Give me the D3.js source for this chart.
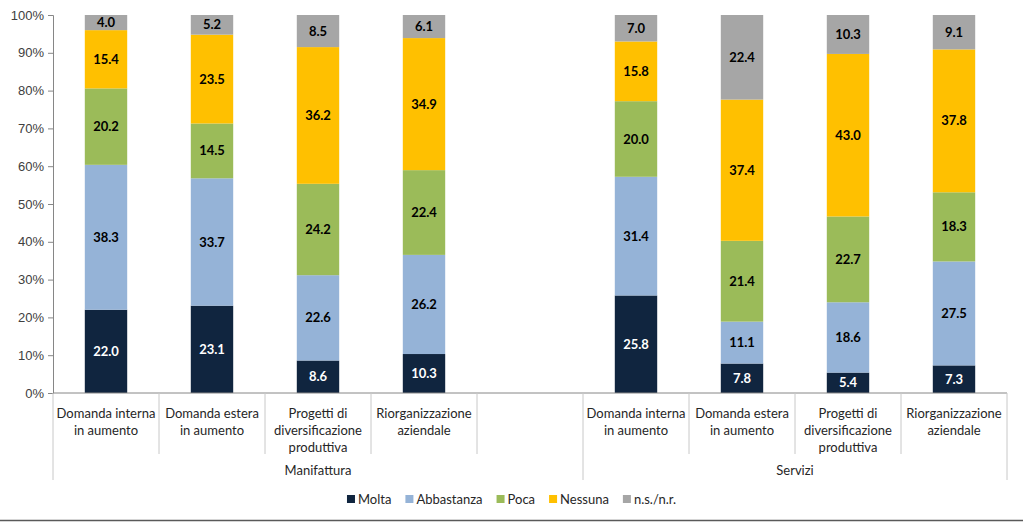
<!DOCTYPE html>
<html><head><meta charset="utf-8">
<script src="https://cdn.jsdelivr.net/npm/d3@7"></script>
<style>body{margin:0;background:#fff}svg{display:block;font-family:Lato,"Open Sans",sans-serif}</style>
</head><body><svg id="c" width="1023" height="522"></svg>
<script>
const groups = ["Manifattura", "Servizi"];
const categories = ["Domanda interna\nin aumento", "Domanda estera\nin aumento", "Progetti di\ndiversificazione\nproduttiva", "Riorganizzazione\naziendale"];
const seriesNames = ["Molta", "Abbastanza", "Poca", "Nessuna", "n.s./n.r."];
const colors = ["#10253F", "#95B3D7", "#9BBB59", "#FFC000", "#A6A6A6"];
const manifattura = [
  [22.0, 38.3, 20.2, 15.4, 4.0],
  [23.1, 33.7, 14.5, 23.5, 5.2],
  [8.6, 22.6, 24.2, 36.2, 8.5],
  [10.3, 26.2, 22.4, 34.9, 6.1]
];
const servizi = [
  [25.8, 31.4, 20.0, 15.8, 7.0],
  [7.8, 11.1, 21.4, 37.4, 22.4],
  [5.4, 18.6, 22.7, 43.0, 10.3],
  [7.3, 27.5, 18.3, 37.8, 9.1]
];
const yTicks = [0,10,20,30,40,50,60,70,80,90,100];

const svg = d3.select("#c");
const L = 53, R = 1007, T = 15, B = 393;
const slots = [];
categories.forEach((c,i)=>slots.push({key:"M"+i, cat:c, g:0, vals:manifattura[i]}));
slots.push({key:"gap", cat:"", g:-1, vals:null});
categories.forEach((c,i)=>slots.push({key:"S"+i, cat:c, g:1, vals:servizi[i]}));

const x = d3.scaleBand().domain(slots.map(s=>s.key)).range([L,R]).paddingInner(0).paddingOuter(0);
const y = d3.scaleLinear().domain([0,100]).range([B,T]);
const bw = x.bandwidth()*0.40;

const yAxis = d3.axisLeft(y).tickValues(yTicks).tickFormat(d=>d+"%").tickSize(5).tickPadding(4);
const ya = svg.append("g").attr("transform",`translate(${L},0)`).call(yAxis);
ya.select(".domain").attr("stroke","#868686");
ya.selectAll(".tick line").attr("stroke","#868686");
ya.selectAll(".tick text").attr("fill","#404040").style("font-size","13px");

slots.filter(s=>s.vals).forEach(s=>{
  const tot = d3.sum(s.vals);
  let acc = 0;
  s.vals.forEach((v,k)=>{
    const y0 = acc/tot*100, y1 = (acc+v)/tot*100; acc += v;
    const cx = x(s.key)+x.bandwidth()/2;
    svg.append("rect").attr("x",cx-bw/2).attr("width",bw)
      .attr("y",y(y1)).attr("height",y(y0)-y(y1)).attr("fill",colors[k]);
    svg.append("text").attr("x",cx).attr("y",(y(y0)+y(y1))/2).attr("dy","0.35em")
      .attr("text-anchor","middle").style("font-size","13px").style("font-weight","bold")
      .attr("fill",k===0?"#ffffff":"#000000").text(v.toFixed(1));
  });
});

svg.append("line").attr("x1",L).attr("x2",R).attr("y1",B).attr("y2",B).attr("stroke","#868686");
const lineC = "#c8c8c8";
slots.forEach((s,i)=>{
  const xe = x(s.key)+x.bandwidth();
  const isGroupEdge = (s.key==="gap") || i===slots.length-1;
  svg.append("line").attr("x1",xe).attr("x2",xe).attr("y1",B).attr("y2",isGroupEdge?480:454).attr("stroke",lineC);
});
svg.append("line").attr("x1",L).attr("x2",L).attr("y1",B).attr("y2",480).attr("stroke",lineC);
slots.filter(s=>s.vals).forEach(s=>{
  const cx = x(s.key)+x.bandwidth()/2;
  const t = svg.append("text").attr("text-anchor","middle").attr("fill","#262626").style("font-size","13px");
  s.cat.split("\n").forEach((ln,j)=>t.append("tspan").attr("x",cx).attr("y",418+j*17).text(ln));
});
groups.forEach((g,gi)=>{
  const x0 = gi===0 ? L : x("gap")+x.bandwidth();
  const x1 = gi===0 ? x("gap")+x.bandwidth() : R;
  svg.append("text").attr("x",(x0+x1)/2).attr("y",475).attr("text-anchor","middle")
    .attr("fill","#262626").style("font-size","13px").text(g);
});

const leg = svg.append("g");
let lx = 0;
seriesNames.forEach((n,k)=>{
  const g = leg.append("g").attr("transform",`translate(${lx},0)`);
  g.append("rect").attr("x",0).attr("y",-4).attr("width",8).attr("height",8).attr("fill",colors[k]);
  const t = g.append("text").attr("x",11).attr("y",0).attr("dy","0.35em").attr("fill","#262626").style("font-size","13px").text(n);
  lx += 11 + t.node().getComputedTextLength() + 14;
});
const lw = lx - 14;
leg.attr("transform",`translate(${(1023-lw)/2},499)`);

svg.append("line").attr("x1",0).attr("x2",1023).attr("y1",520.5).attr("y2",520.5).attr("stroke","#595959").attr("stroke-width",1.5);
</script></body></html>
